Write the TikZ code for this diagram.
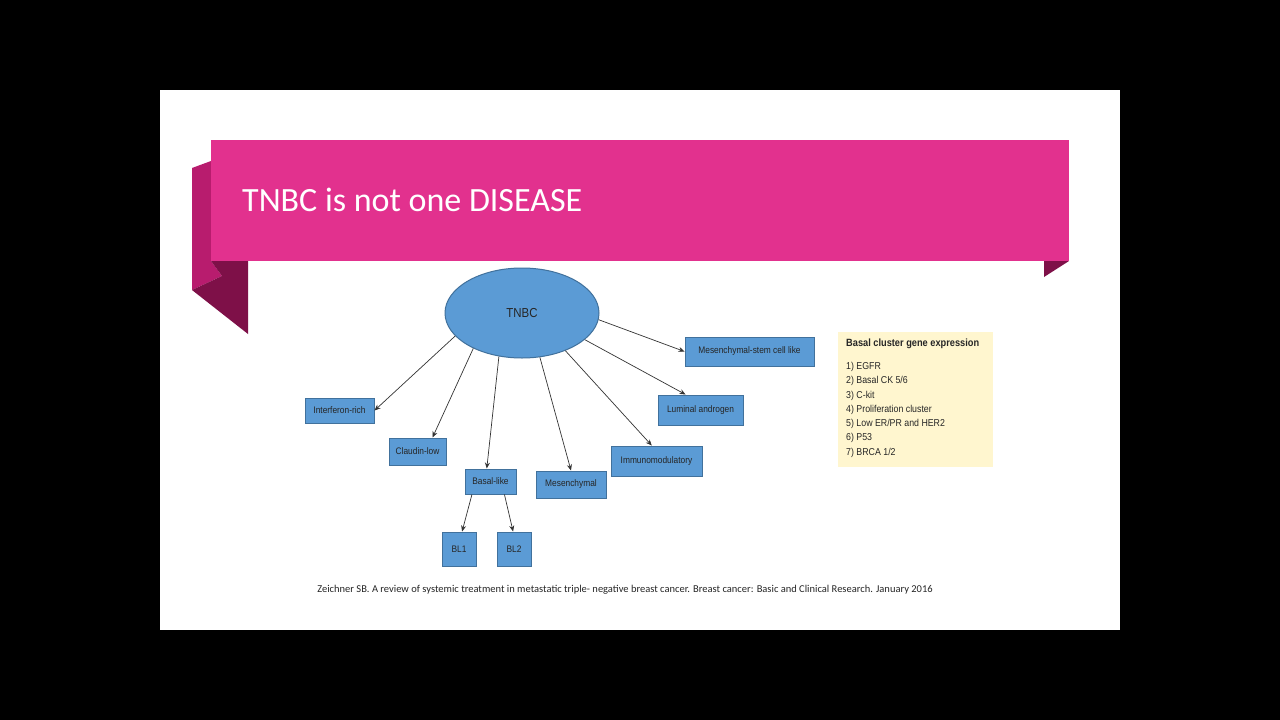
\documentclass[tikz,border=0pt]{standalone}
\usepackage{fontspec}
\setmainfont{Carlito}
\newfontfamily\arial[FakeStretch=0.88]{Liberation Sans}
\usetikzlibrary{shapes.geometric,arrows.meta}
\definecolor{pinkc}{HTML}{E2318E}
\definecolor{pinkm}{HTML}{B81C6E}
\definecolor{pinkd}{HTML}{7E1048}
\definecolor{boxb}{HTML}{5B9BD5}
\definecolor{boxe}{HTML}{41719C}
\definecolor{yel}{HTML}{FFF6CF}
\tikzset{
 sub/.style={draw=boxe,fill=boxb,line width=1pt,inner sep=0pt,font=\arial\fontsize{9.5}{11}\selectfont,text=black!85},
 arr/.style={draw=black!80,line width=0.7pt,-{Stealth[length=6pt,width=5pt]}}
}
\begin{document}
\begin{tikzpicture}[x=1pt,y=-1pt]
\fill[black] (0,0) rectangle (1280,720);
\fill[white] (160,90) rectangle (1120,630);
% ribbon
\fill[pinkm] (192,168) -- (211,161) -- (211,261) -- (222,276) -- (192,290) -- cycle;
\fill[pinkd] (211,261) -- (248,261) -- (248,334) -- (192,290) -- (222,276) -- cycle;
\fill[pinkd] (1044,261) -- (1069,261) -- (1044,277) -- cycle;
\fill[pinkc] (211,140) rectangle (1069,261);
\node[anchor=west,text=white,font=\fontsize{34}{40}\selectfont,inner sep=0pt] (title) at (242,200) {TNBC is not one DISEASE};
% diagram
\node[ellipse,draw=boxe,fill=boxb,line width=1pt,minimum width=154pt,minimum height=90pt,font=\arial\fontsize{13}{15}\selectfont,text=black!85] (tnbc) at (522,313) {TNBC};
\node[sub,minimum width=129pt,minimum height=29pt] (msc) at (749.5,351.5) {Mesenchymal-stem cell like};
\node[sub,minimum width=69pt,minimum height=25pt] (ifr) at (339.5,410.5) {Interferon-rich};
\node[sub,minimum width=57pt,minimum height=27pt] (cl) at (417.5,451.5) {Claudin-low};
\node[sub,minimum width=51pt,minimum height=25pt] (bas) at (490.5,481.5) {Basal-like};
\node[sub,minimum width=70pt,minimum height=27pt] (mes) at (571,484.5) {Mesenchymal};
\node[sub,minimum width=91pt,minimum height=30pt] (imm) at (656.5,461) {Immunomodulatory};
\node[sub,minimum width=85pt,minimum height=30pt] (lum) at (700.5,410) {Luminal androgen};
\node[sub,minimum width=34pt,minimum height=34pt] (bl1) at (459,549) {BL1};
\node[sub,minimum width=34pt,minimum height=34pt] (bl2) at (514,549) {BL2};
\draw[arr] (tnbc.199) -- (ifr.east);
\draw[arr] (tnbc.216) -- (cl.43);
\draw[arr] (tnbc.242) -- (bas.106);
\draw[arr] (tnbc.292) -- (mes.north);
\draw[arr] (tnbc.319) -- (imm.107);
\draw[arr] (tnbc.337) -- (lum.134);
\draw[arr] (tnbc.355) -- (msc.west);
\draw[arr] (bas.215.5) -- (bl1.80);
\draw[arr] (bas.317) -- (bl2.93);
% yellow box
\node[fill=yel,minimum width=155pt,minimum height=135pt,inner sep=0pt] (gene) at (915.5,399.5) {};
\node[anchor=north west,inner sep=0pt,font=\arial\fontsize{10.5}{12}\selectfont\bfseries,text=black!85] (gt) at (846,339) {Basal cluster gene expression};
\node[anchor=north west,inner sep=0pt,align=left,font=\arial\fontsize{10}{14.3}\selectfont,text=black!85] (gl) at (846,362) {1) EGFR\\2) Basal CK 5/6\\3) C-kit\\4) Proliferation cluster\\5) Low ER/PR and HER2\\6) P53\\7) BRCA 1/2};
\node[font=\fontsize{10.5}{12}\selectfont,text=black!85] (cite) at (625,590) {Zeichner SB. A review of systemic treatment in metastatic triple- negative breast cancer. Breast cancer: Basic and Clinical Research. January 2016};
\end{tikzpicture}
\end{document}
